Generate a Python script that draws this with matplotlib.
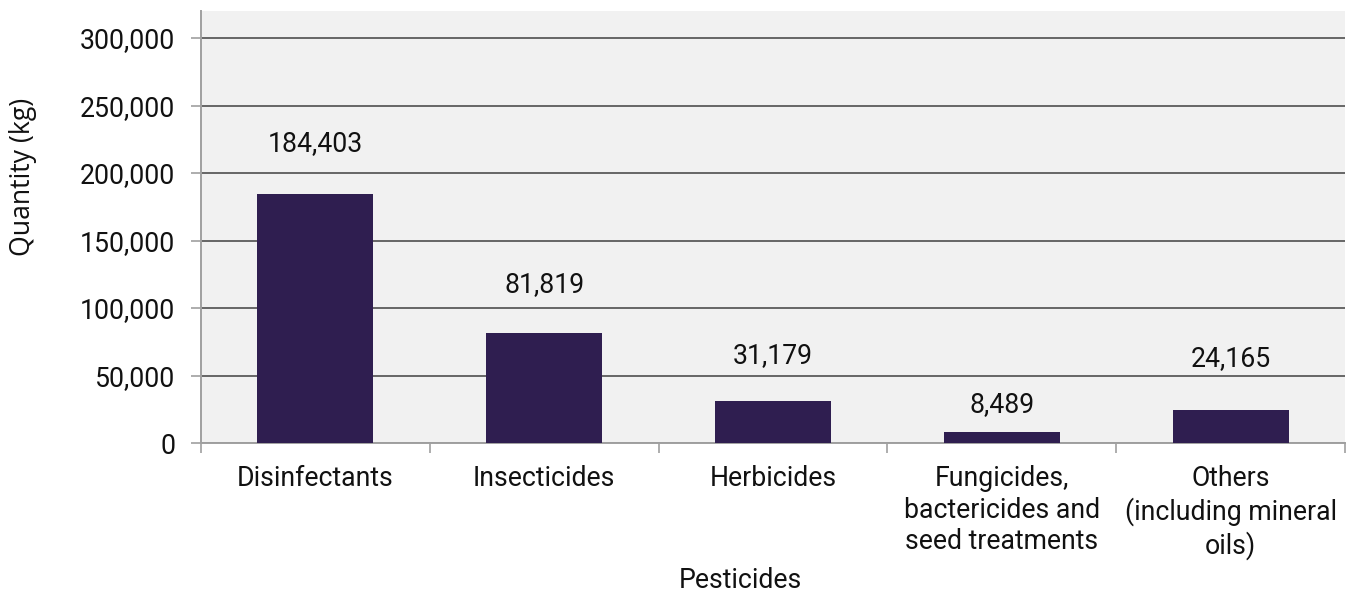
import numpy as np
import matplotlib.pyplot as plt
from matplotlib.ticker import FuncFormatter

categories = ['Disinfectants', 'Insecticides', 'Herbicides',
              'Fungicides,\nbactericides and\nseed treatments',
              'Others\n(including mineral\noils)']
quantities = [184403, 81819, 31179, 8489, 24165]
y_ticks = [0, 50000, 100000, 150000, 200000, 250000, 300000]
# label offsets above each bar (points), as placed in the original
label_offsets = [36.7, 34.9, 32.4, 19.4, 37.4]

plt.rcParams['font.family'] = ['Roboto', 'DejaVu Sans']
fs = 19.2
txt = '#111111'

fig = plt.figure(figsize=(13.51, 5.93), dpi=100)
ax = fig.add_axes([201 / 1351, 1 - 443 / 593, 1144 / 1351, 432 / 593])
ax.set_facecolor('#f1f1f1')

x = np.arange(len(categories))
ax.bar(x, quantities, width=0.507, color='#2f1e50', zorder=3)

for xi, q, off in zip(x, quantities, label_offsets):
    ax.annotate(f'{q:,}', (xi, q), xytext=(0, off), textcoords='offset points',
                ha='center', va='center', fontsize=fs, color=txt)

ax.set_xlim(-0.5, len(categories) - 0.5)
ax.set_ylim(0, 320000)
ax.set_yticks(y_ticks)
ax.yaxis.set_major_formatter(FuncFormatter(lambda v, p: f'{int(v):,}'))
ax.grid(axis='y', color='#666666', linewidth=1.4, zorder=1)

ax.set_xticks(x)
ax.set_xticklabels(categories, fontsize=fs, color=txt, linespacing=1.22)
ax.set_xticks(np.arange(len(categories) + 1) - 0.5, minor=True)
ax.tick_params(axis='x', which='major', length=0, pad=16)
ax.tick_params(axis='x', which='minor', length=7, color='#a0a0a0', width=1.2)
ax.tick_params(axis='y', length=7, color='#a0a0a0', width=1.2, labelsize=fs,
               labelcolor=txt, pad=11.5)

for s in ['top', 'right']:
    ax.spines[s].set_visible(False)
for s in ['left', 'bottom']:
    ax.spines[s].set_color('#a0a0a0')
    ax.spines[s].set_linewidth(1.4)

ax.set_xlabel('Pesticides', fontsize=fs, color=txt, va='center')
ax.xaxis.set_label_coords((740 - 201) / 1144, (443 - 580) / 432)
ax.set_ylabel('Quantity (kg)', fontsize=fs, color=txt,
              family=['Open Sans', 'DejaVu Sans'], va='center')
ax.yaxis.set_label_coords((23 - 201) / 1144, (443 - 177) / 432)

fig.savefig('out.png', dpi=100)
